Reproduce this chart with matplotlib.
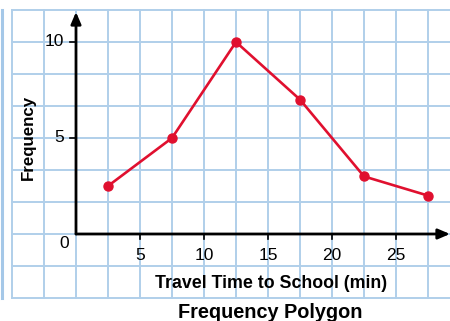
import matplotlib.pyplot as plt
import numpy as np

# data
minutes = [2.5, 7.5, 12.5, 17.5, 22.5, 27.5]
frequency = [2.5, 5, 10, 7, 3, 2]
x_ticks = [5, 10, 15, 20, 25]
y_ticks = [5, 10]

RED = '#e0102f'
GRID = '#b0cfea'
FONT = 'Liberation Sans'

fig = plt.figure(figsize=(4.5, 3.21), dpi=100)
ax = fig.add_axes([0, 0, 1, 1])
# pixel -> data: x = (px - 76) / 12.8, y = (234 - py) / 19.2
ax.set_xlim(-76 / 12.8, 374 / 12.8)
ax.set_ylim((234 - 321) / 19.2, 234 / 19.2)
ax.axis('off')

# graph paper grid
gx0, gy0, gy1 = -5, -10 / 3, 35 / 3
for gx in np.arange(-5, 30, 2.5):
    ax.plot([gx, gx], [gy0, gy1], color=GRID, lw=1.4, zorder=1)
for gy in np.arange(-10 / 3, 12, 5 / 3):
    ax.plot([gx0, 31], [gy, gy], color=GRID, lw=1.4, zorder=1)
ax.plot([-74.5 / 12.8] * 2, [gy0, gy1], color='#a5c8e8', lw=2.2, zorder=1)

# axes with arrows
ax.annotate('', xy=(374 / 12.8, 0), xytext=(0, 0),
            arrowprops=dict(arrowstyle='-|>,head_length=0.7,head_width=0.3',
                            color='black', lw=2, shrinkA=0, shrinkB=0), zorder=3)
ax.annotate('', xy=(0, 222 / 19.2), xytext=(0, 0),
            arrowprops=dict(arrowstyle='-|>,head_length=0.7,head_width=0.3',
                            color='black', lw=2, shrinkA=0, shrinkB=0), zorder=3)

for t in x_ticks:
    ax.plot([t, t], [0, -0.25], color='black', lw=1.2, zorder=3)
    ax.text(t, (234 - 255) / 19.2, str(t), ha='center', va='center', fontsize=12.5, family=FONT)
for t in y_ticks:
    ax.plot([0, -0.45], [t, t], color='black', lw=1.2, zorder=3)
    ax.text(-0.95, t, str(t), ha='right', va='center', fontsize=12.5, family=FONT)
ax.text(-0.55, (234 - 243) / 19.2, '0', ha='right', va='center', fontsize=12.5, family=FONT)

# polygon
ax.plot(minutes, frequency, color=RED, lw=1.9, marker='o', markersize=6.5, zorder=4)

ax.text(195 / 12.8, (234 - 283) / 19.2, 'Travel Time to School (min)', ha='center',
        va='center', fontsize=12.8, fontweight='bold', family=FONT)
ax.text(194 / 12.8, (234 - 312) / 19.2, 'Frequency Polygon', ha='center',
        va='center', fontsize=14.3, fontweight='bold', family=FONT)
ax.text(-48 / 12.8, (234 - 137) / 19.2, 'Frequency', ha='center', va='center',
        rotation=90, fontsize=12.2, fontweight='bold', family=FONT)

fig.savefig('out.png', dpi=100)
